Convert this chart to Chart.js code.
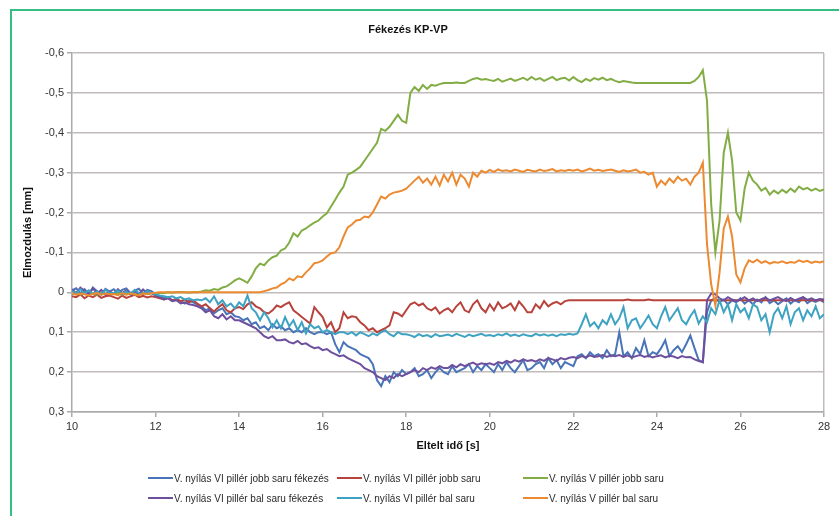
<!DOCTYPE html>
<html>
<head>
<meta charset="utf-8">
<script src="https://cdn.jsdelivr.net/npm/chart.js"></script>
<style>
  body { margin: 0; background: #fff; width: 839px; height: 516px; overflow: hidden; position: relative;
         font-family: "Liberation Sans", Arial, sans-serif; }
  #frame { position: absolute; left: 10px; top: 9px; width: 840px; height: 520px;
           border-left: 2px solid #36bd82; border-top: 2px solid #36bd82; }
  #wrap { position: absolute; left: -8px; top: 0; width: 847px; height: 516px; }
  .item { position: absolute; display: flex; align-items: center; white-space: nowrap;
          font-size: 10px; color: #2a2a2a; height: 12px; }
  .swatch { width: 25px; height: 2px; margin-right: 1px; }
</style>
</head>
<body>
<div id="frame"></div>
<div id="wrap"><canvas id="myChart"></canvas></div>
<div id="legend"></div>
<script>
// time axis [s]
const time = [
  10,10.1,10.2,10.3,10.4,10.5,10.6,10.7,10.8,10.9,
  11,11.1,11.2,11.3,11.4,11.5,11.6,11.7,11.8,11.9,
  12,12.1,12.2,12.3,12.4,12.5,12.6,12.7,12.8,12.9,
  13,13.1,13.2,13.3,13.4,13.5,13.6,13.7,13.8,13.9,
  14,14.1,14.2,14.3,14.4,14.5,14.6,14.7,14.8,14.9,
  15,15.1,15.2,15.3,15.4,15.5,15.6,15.7,15.8,15.9,
  16,16.1,16.2,16.3,16.4,16.5,16.6,16.7,16.8,16.9,
  17,17.1,17.2,17.3,17.4,17.5,17.6,17.7,17.8,17.9,
  18,18.1,18.2,18.3,18.4,18.5,18.6,18.7,18.8,18.9,
  19,19.1,19.2,19.3,19.4,19.5,19.6,19.7,19.8,19.9,
  20,20.1,20.2,20.3,20.4,20.5,20.6,20.7,20.8,20.9,
  21,21.1,21.2,21.3,21.4,21.5,21.6,21.7,21.8,21.9,
  22,22.1,22.2,22.3,22.4,22.5,22.6,22.7,22.8,22.9,
  23,23.1,23.2,23.3,23.4,23.5,23.6,23.7,23.8,23.9,
  24,24.1,24.2,24.3,24.4,24.5,24.6,24.7,24.8,24.9,
  25,25.1,25.2,25.3,25.4,25.5,25.6,25.7,25.8,25.9,
  26,26.1,26.2,26.3,26.4,26.5,26.6,26.7,26.8,26.9,
  27,27.1,27.2,27.3,27.4,27.5,27.6,27.7,27.8,27.9,
  28
];

// V. nyílás VI pillér jobb saru fékezés
const jobbFek = [
  -0.005,-0.01,0.002,-0.008,0.004,-0.012,-0.003,0.005,-0.009,-0.002,
  -0.008,0.003,-0.006,-0.01,0.002,-0.004,-0.009,0.004,-0.006,-0.003,
  0.005,0.01,0.015,0.012,0.02,0.018,0.022,0.028,0.02,0.025,
  0.03,0.035,0.045,0.04,0.053,0.045,0.04,0.055,0.05,0.06,
  0.062,0.07,0.065,0.08,0.075,0.09,0.085,0.095,0.08,0.09,
  0.085,0.095,0.09,0.1,0.095,0.1,0.09,0.1,0.105,0.1,
  0.1,0.105,0.1,0.13,0.15,0.125,0.135,0.14,0.145,0.155,
  0.16,0.165,0.18,0.22,0.235,0.21,0.225,0.2,0.21,0.195,
  0.205,0.2,0.19,0.21,0.205,0.195,0.215,0.2,0.19,0.2,
  0.205,0.185,0.2,0.195,0.19,0.18,0.2,0.185,0.195,0.18,
  0.19,0.2,0.18,0.195,0.175,0.19,0.2,0.185,0.17,0.195,
  0.19,0.18,0.175,0.19,0.165,0.18,0.17,0.19,0.175,0.18,
  0.185,0.16,0.155,0.165,0.15,0.16,0.155,0.165,0.145,0.16,
  0.155,0.1,0.16,0.15,0.165,0.14,0.155,0.12,0.16,0.15,
  0.155,0.14,0.12,0.16,0.145,0.135,0.15,0.13,0.108,0.14,
  0.17,0.175,0.05,0.02,0.015,0.025,0.018,0.03,0.02,0.025,
  0.015,0.028,0.02,0.03,0.018,0.025,0.012,0.027,0.02,0.03,
  0.022,0.015,0.028,0.02,0.025,0.013,0.027,0.02,0.024,0.018,
  0.025
];

// V. nyílás VI pillér jobb saru
const jobbVI = [
  0.01,0.012,0.005,0.015,0.008,0.012,0.006,0.014,0.01,0.008,
  0.012,0.016,0.008,0.014,0.01,0.006,0.012,0.009,0.013,0.01,
  0.012,0.015,0.018,0.014,0.02,0.017,0.022,0.018,0.025,0.02,
  0.028,0.035,0.03,0.04,0.048,0.038,0.03,0.045,0.05,0.04,
  0.037,0.042,0.03,0.025,0.035,0.04,0.05,0.053,0.045,0.033,
  0.037,0.03,0.025,0.045,0.053,0.062,0.07,0.078,0.037,0.05,
  0.062,0.088,0.075,0.1,0.09,0.05,0.065,0.06,0.062,0.075,
  0.083,0.095,0.09,0.1,0.095,0.09,0.083,0.05,0.053,0.06,
  0.045,0.03,0.025,0.033,0.028,0.04,0.045,0.038,0.053,0.045,
  0.04,0.05,0.035,0.025,0.045,0.05,0.03,0.02,0.04,0.05,
  0.03,0.045,0.025,0.04,0.035,0.028,0.045,0.023,0.035,0.05,
  0.05,0.03,0.04,0.022,0.035,0.028,0.024,0.03,0.022,0.02,
  0.02,0.02,0.02,0.02,0.02,0.02,0.02,0.02,0.02,0.02,
  0.02,0.02,0.02,0.018,0.02,0.02,0.02,0.02,0.018,0.02,
  0.02,0.02,0.02,0.02,0.02,0.02,0.02,0.02,0.02,0.02,
  0.02,0.02,0.02,0.02,0.02,0.02,0.02,0.02,0.02,0.02,
  0.02,0.02,0.02,0.02,0.02,0.02,0.02,0.02,0.02,0.02,
  0.02,0.02,0.02,0.02,0.02,0.02,0.02,0.02,0.02,0.02,
  0.02
];

// V. nyílás V pillér jobb saru
const jobbV = [
  0.004,0.001,0.006,0.002,-0.003,0.004,0.006,0.002,0.005,0.003,
  0.004,0.001,0.006,0.003,0.002,0.006,0.004,0.001,0.005,0.003,
  0.002,0.001,0.002,0,0.001,0,-0.001,0,0.001,0,
  0,-0.002,-0.005,-0.004,-0.008,-0.006,-0.012,-0.015,-0.022,-0.03,
  -0.035,-0.03,-0.024,-0.04,-0.06,-0.072,-0.068,-0.08,-0.088,-0.092,
  -0.105,-0.11,-0.125,-0.148,-0.14,-0.155,-0.16,-0.168,-0.175,-0.18,
  -0.19,-0.198,-0.215,-0.232,-0.25,-0.265,-0.295,-0.3,-0.307,-0.315,
  -0.33,-0.345,-0.36,-0.375,-0.41,-0.405,-0.415,-0.43,-0.445,-0.43,
  -0.425,-0.5,-0.515,-0.505,-0.52,-0.51,-0.52,-0.518,-0.522,-0.525,
  -0.525,-0.525,-0.526,-0.525,-0.525,-0.53,-0.535,-0.537,-0.533,-0.535,
  -0.532,-0.53,-0.535,-0.528,-0.532,-0.536,-0.53,-0.534,-0.538,-0.532,
  -0.54,-0.533,-0.537,-0.53,-0.535,-0.54,-0.532,-0.536,-0.538,-0.531,
  -0.54,-0.532,-0.527,-0.535,-0.53,-0.537,-0.533,-0.538,-0.532,-0.535,
  -0.53,-0.527,-0.53,-0.528,-0.526,-0.525,-0.525,-0.525,-0.525,-0.525,
  -0.525,-0.525,-0.525,-0.525,-0.525,-0.525,-0.525,-0.525,-0.525,-0.53,
  -0.54,-0.557,-0.48,-0.22,-0.1,-0.18,-0.35,-0.4,-0.33,-0.2,
  -0.18,-0.26,-0.3,-0.28,-0.27,-0.255,-0.262,-0.245,-0.255,-0.248,
  -0.257,-0.25,-0.26,-0.252,-0.265,-0.258,-0.262,-0.255,-0.26,-0.254,
  -0.258
];

// V. nyílás VI pillér bal saru fékezés
const balFek = [
  -0.008,0.002,-0.012,-0.004,0.005,-0.01,0.003,-0.006,0.006,-0.002,
  0.004,-0.008,0.002,-0.005,0.006,-0.003,0.005,-0.007,0.003,0.001,
  0.008,0.012,0.018,0.015,0.022,0.02,0.028,0.025,0.03,0.032,
  0.035,0.04,0.05,0.045,0.06,0.065,0.055,0.068,0.06,0.07,
  0.07,0.075,0.08,0.085,0.09,0.1,0.11,0.115,0.11,0.12,
  0.12,0.118,0.125,0.128,0.122,0.13,0.128,0.135,0.14,0.138,
  0.145,0.142,0.15,0.155,0.16,0.158,0.165,0.17,0.175,0.18,
  0.19,0.195,0.2,0.21,0.215,0.22,0.21,0.215,0.205,0.21,
  0.205,0.2,0.195,0.2,0.19,0.195,0.188,0.192,0.185,0.19,
  0.19,0.182,0.188,0.18,0.185,0.18,0.176,0.182,0.178,0.18,
  0.178,0.182,0.175,0.178,0.172,0.176,0.17,0.174,0.168,0.172,
  0.17,0.174,0.168,0.172,0.165,0.168,0.172,0.165,0.168,0.164,
  0.162,0.165,0.16,0.163,0.158,0.162,0.16,0.157,0.162,0.158,
  0.16,0.157,0.162,0.158,0.163,0.16,0.157,0.162,0.159,0.163,
  0.16,0.158,0.163,0.159,0.161,0.165,0.16,0.163,0.162,0.168,
  0.172,0.175,0.02,0.003,0.005,0.015,0.02,0.012,0.018,0.022,
  0.018,0.012,0.02,0.015,0.022,0.017,0.013,0.02,0.016,0.012,
  0.018,0.022,0.014,0.02,0.016,0.012,0.019,0.015,0.02,0.017,
  0.018
];

// V. nyílás VI pillér bal saru
const balVI = [
  -0.004,0.003,-0.008,0.002,-0.005,0.004,-0.002,0.006,-0.006,0.001,
  0.003,-0.005,0.004,-0.002,0.005,-0.006,0.002,0.004,-0.003,0.002,
  0.005,0.008,0.01,0.012,0.01,0.015,0.012,0.018,0.015,0.02,
  0.018,0.02,0.015,0.025,0.01,0.03,0.02,0.035,0.028,0.04,
  0.025,0.035,0.008,0.04,0.05,0.07,0.05,0.065,0.088,0.07,
  0.09,0.062,0.085,0.07,0.095,0.075,0.103,0.08,0.09,0.085,
  0.1,0.095,0.1,0.105,0.1,0.1,0.105,0.1,0.108,0.1,
  0.105,0.11,0.103,0.108,0.1,0.095,0.105,0.11,0.1,0.105,
  0.105,0.108,0.112,0.105,0.11,0.107,0.112,0.105,0.11,0.108,
  0.106,0.11,0.104,0.108,0.112,0.106,0.11,0.107,0.104,0.109,
  0.107,0.11,0.105,0.108,0.103,0.109,0.106,0.11,0.105,0.108,
  0.11,0.104,0.108,0.105,0.109,0.106,0.11,0.105,0.107,0.104,
  0.106,0.103,0.08,0.055,0.085,0.075,0.09,0.07,0.08,0.055,
  0.08,0.065,0.037,0.09,0.07,0.065,0.09,0.075,0.058,0.08,
  0.09,0.06,0.037,0.07,0.055,0.04,0.07,0.08,0.06,0.045,
  0.078,0.06,0.075,0.04,0.055,0.02,0.05,0.03,0.07,0.03,
  0.05,0.04,0.065,0.03,0.037,0.07,0.055,0.1,0.055,0.04,
  0.065,0.035,0.08,0.05,0.04,0.07,0.045,0.06,0.035,0.065,
  0.055
];

// V. nyílás V pillér bal saru
const balV = [
  0.002,0.006,0.003,0.005,0.008,0.004,0.002,0.006,0.003,0.005,
  0.004,0.007,0.002,0.006,0.003,0.005,0.008,0.003,0.004,0.002,
  0.001,0,0,0,0,0,0,0,0,0,
  0,0,0,0,0,0,0,0,0,0,
  0,0,0,0,0,0,-0.003,-0.006,-0.01,-0.012,
  -0.02,-0.025,-0.035,-0.03,-0.04,-0.038,-0.05,-0.06,-0.073,-0.075,
  -0.08,-0.09,-0.098,-0.1,-0.113,-0.14,-0.163,-0.17,-0.18,-0.182,
  -0.19,-0.188,-0.2,-0.22,-0.24,-0.235,-0.245,-0.25,-0.252,-0.255,
  -0.26,-0.27,-0.28,-0.29,-0.275,-0.285,-0.27,-0.29,-0.268,-0.295,
  -0.278,-0.3,-0.27,-0.295,-0.285,-0.265,-0.3,-0.29,-0.305,-0.3,
  -0.307,-0.302,-0.308,-0.304,-0.306,-0.303,-0.308,-0.305,-0.302,-0.307,
  -0.305,-0.303,-0.308,-0.304,-0.306,-0.309,-0.303,-0.306,-0.304,-0.307,
  -0.305,-0.308,-0.303,-0.306,-0.31,-0.305,-0.307,-0.304,-0.306,-0.308,
  -0.305,-0.302,-0.306,-0.303,-0.305,-0.308,-0.3,-0.302,-0.295,-0.3,
  -0.265,-0.28,-0.27,-0.285,-0.275,-0.29,-0.28,-0.285,-0.27,-0.29,
  -0.3,-0.325,-0.12,-0.02,0.033,-0.05,-0.16,-0.19,-0.14,-0.045,
  -0.025,-0.06,-0.08,-0.075,-0.082,-0.074,-0.078,-0.072,-0.076,-0.074,
  -0.078,-0.073,-0.076,-0.074,-0.08,-0.076,-0.079,-0.074,-0.077,-0.075,
  -0.078
];

const seriesNames = [
  'V. nyílás VI pillér jobb saru fékezés',
  'V. nyílás VI pillér jobb saru',
  'V. nyílás V pillér jobb saru',
  'V. nyílás VI pillér bal saru fékezés',
  'V. nyílás VI pillér bal saru',
  'V. nyílás V pillér bal saru'
];
const seriesData = [jobbFek, jobbVI, jobbV, balFek, balVI, balV];
const seriesColors = ['#4a74b8', '#b8433d', '#82ad44', '#6d4f9e', '#3ea3c2', '#ec8a31'];

const fontFam = '"Liberation Sans", Arial, sans-serif';
const gridCol = '#c2bbbb';

// html legend, 3 columns x 2 rows like the excel one
const legendCols = [148, 337, 523];
const legendRows = [472, 492];
const legend = document.getElementById('legend');
seriesNames.forEach((name, i) => {
  const div = document.createElement('div');
  div.className = 'item';
  div.style.left = legendCols[i % 3] + 'px';
  div.style.top = legendRows[Math.floor(i / 3)] + 'px';
  div.innerHTML = '<span class="swatch" style="background:' + seriesColors[i] + '"></span>' + name;
  legend.appendChild(div);
});

const ctx = document.getElementById('myChart');

let dataChart = new Chart(ctx, {
  type: 'line',
  data: {
    labels: time,
    datasets: seriesData.map((d, i) => ({
      label: seriesNames[i],
      data: d,
      borderColor: seriesColors[i],
      backgroundColor: seriesColors[i],
      borderWidth: 2,
      pointRadius: 0,
      fill: false,
      tension: 0,
      order: 6 - i
    }))
  },
  options: {
    responsive: true,
    maintainAspectRatio: false,
    animation: false,
    layout: { padding: { left: 0, right: 15, top: 0, bottom: 63 } },
    plugins: {
      legend: { display: false },
      tooltip: { enabled: false },
      title: {
        display: true,
        text: 'Fékezés KP-VP',
        color: '#111',
        font: { family: fontFam, size: 11, weight: 'bold' },
        padding: { top: 23, bottom: 16.8 }
      }
    },
    scales: {
      x: {
        type: 'linear',
        min: 10,
        max: 28,
        ticks: { stepSize: 2, color: '#333', font: { family: fontFam, size: 11 }, padding: 3, maxRotation: 0 },
        grid: {
          drawOnChartArea: true,
          color: (c) => (c.tick && c.tick.value === 28) ? gridCol : 'transparent',
          tickColor: '#aaa',
          tickLength: 5,
          lineWidth: 1.5
        },
        border: { color: '#aaa', width: 1.5 },
        title: {
          display: true,
          text: 'Eltelt idő [s]',
          color: '#111',
          font: { family: fontFam, size: 11, weight: 'bold' },
          padding: { top: 6, bottom: 0 }
        },
        afterFit: (scale) => { scale.height = 41; }
      },
      y: {
        min: -0.6,
        max: 0.3,
        reverse: true,
        ticks: {
          stepSize: 0.1,
          color: '#333',
          font: { family: fontFam, size: 11 },
          padding: 3,
          callback: (v) => {
            const r = Math.round(v * 10) / 10;
            return r === 0 ? '0' : r.toFixed(1).replace('.', ',');
          }
        },
        grid: { color: gridCol, lineWidth: 1.5, tickColor: '#aaa', tickLength: 5 },
        border: { color: '#aaa', width: 1.5 },
        title: {
          display: true,
          text: 'Elmozdulás [mm]',
          color: '#111',
          font: { family: fontFam, size: 11, weight: 'bold' },
          padding: { top: 29.4, bottom: 0 }
        },
        afterFit: (scale) => { scale.width = 80; }
      }
    }
  }
});
</script>
</body>
</html>
